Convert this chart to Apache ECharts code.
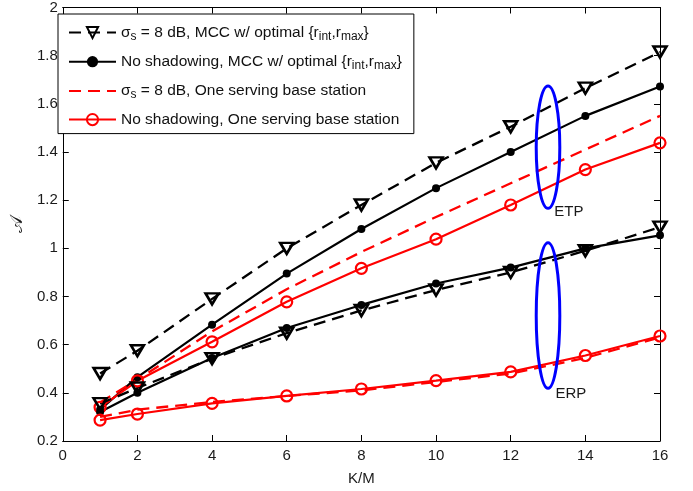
<!DOCTYPE html>
<html>
<head>
<meta charset="utf-8">
<script src="https://cdn.jsdelivr.net/npm/echarts@6/dist/echarts.min.js"></script>
<style>html,body{margin:0;padding:0;background:#fff}#c{width:693px;height:491px}</style>
</head>
<body>
<div id="c"></div>
<script>
// ---- data ----
var xs = [1, 2, 4, 6, 8, 10, 12, 14, 16];
var etpShadowMCC   = [0.48, 0.575, 0.79, 1.0, 1.18, 1.355, 1.505, 1.665, 1.815];
var etpNoShadowMCC = [0.33, 0.465, 0.683, 0.895, 1.08, 1.25, 1.40, 1.55, 1.672];
var etpShadowOne   = [0.36, 0.455, 0.655, 0.83, 0.985, 1.13, 1.27, 1.41, 1.55];
var etpNoShadowOne = [0.34, 0.45, 0.612, 0.778, 0.917, 1.038, 1.18, 1.327, 1.438];
var erpShadowMCC   = [0.355, 0.42, 0.542, 0.648, 0.742, 0.827, 0.90, 0.99, 1.088];
var erpNoShadowMCC = [0.32, 0.40, 0.545, 0.669, 0.765, 0.854, 0.92, 1.0, 1.054];
var erpShadowOne   = [0.30, 0.33, 0.362, 0.387, 0.41, 0.445, 0.48, 0.545, 0.63];
var erpNoShadowOne = [0.287, 0.312, 0.356, 0.387, 0.416, 0.451, 0.487, 0.555, 0.636];
var xTicks = [0, 2, 4, 6, 8, 10, 12, 14, 16];
var yTicks = [0.2, 0.4, 0.6, 0.8, 1, 1.2, 1.4, 1.6, 1.8, 2];
var legendNames = [
  'σ{sub|s} = 8 dB, MCC w/ optimal {r{sub|int},r{sub|max}}',
  'No shadowing, MCC w/ optimal {r{sub|int},r{sub|max}}',
  'σ{sub|s} = 8 dB, One serving base station',
  'No shadowing, One serving base station'
];
// annotation ellipses: [centerX, centerY, radiusX, radiusY] in data units
var ellipseData = [[13, 1.42, 0.316, 0.254], [13, 0.721, 0.316, 0.302]];
// annotation labels: [x, y, text]
var labelData = [[13.17, 1.153, 'ETP'], [13.2, 0.395, 'ERP']];

function pairs(ys) { return xs.map(function (x, i) { return [x, ys[i]]; }); }

var tri = 'path://M0,0L14,0L7,12Z';
var font = 'Liberation Sans, Arial, sans-serif';

function mk(nameIdx, ys, kind) {
  var s = { name: 'L' + nameIdx, type: 'line', data: pairs(ys), animation: false,
    showAllSymbol: true, z: 3 };
  if (kind === 'tri') {
    s.symbol = tri; s.symbolSize = [13, 11];
    s.lineStyle = { color: '#000', width: 2.3, type: [12, 7] };
    s.itemStyle = { color: 'rgba(255,255,255,0)', borderColor: '#000', borderWidth: 2.6 };
  } else if (kind === 'dot') {
    s.symbol = 'circle'; s.symbolSize = 8;
    s.lineStyle = { color: '#000', width: 2.2, type: 'solid' };
    s.itemStyle = { color: '#000', borderColor: '#000', borderWidth: 0 };
  } else if (kind === 'rdash') {
    s.symbol = 'none'; s.showSymbol = false;
    s.lineStyle = { color: '#ff0000', width: 2.3, type: [12, 7] };
    s.itemStyle = { color: '#ff0000' };
  } else {
    s.symbol = 'circle'; s.symbolSize = 11;
    s.lineStyle = { color: '#ff0000', width: 2.2, type: 'solid' };
    s.itemStyle = { color: 'rgba(255,255,255,0)', borderColor: '#ff0000', borderWidth: 2.2 };
  }
  return s;
}

var chart = echarts.init(document.getElementById('c'), null, { renderer: 'canvas' });
var axisCommon = {
  axisLine: { show: true, onZero: false, lineStyle: { color: '#000', width: 1 } },
  axisTick: { show: true, inside: true, length: 6, lineStyle: { color: '#000' } },
  splitLine: { show: false }
};
var option = {
  backgroundColor: '#fff',
  animation: false,
  grid: { left: 52, right: 33, top: 6, bottom: 43, containLabel: false },
  xAxis: [
    Object.assign({ type: 'value', min: xTicks[0], max: xTicks[xTicks.length - 1], interval: 2,
      position: 'bottom', name: 'K/M', nameLocation: 'middle', nameGap: 30,
      nameTextStyle: { fontFamily: font, fontSize: 15, color: '#1a1a1a' },
      axisLabel: { fontFamily: font, fontSize: 15, color: '#1a1a1a', margin: 7 } }, axisCommon),
    Object.assign({ type: 'value', min: xTicks[0], max: xTicks[xTicks.length - 1], interval: 2,
      position: 'top', axisLabel: { show: false } }, axisCommon)
  ],
  yAxis: [
    Object.assign({ type: 'value', min: yTicks[0], max: yTicks[yTicks.length - 1], interval: 0.2,
      position: 'left', name: '𝒜', nameLocation: 'middle', nameGap: 31, nameRotate: 90,
      nameTextStyle: { fontFamily: 'DejaVu Sans, serif', fontSize: 18, color: '#1a1a1a' },
      axisLabel: { fontFamily: font, fontSize: 15, color: '#1a1a1a', margin: 5 } }, axisCommon),
    Object.assign({ type: 'value', min: yTicks[0], max: yTicks[yTicks.length - 1], interval: 0.2,
      position: 'right', axisLabel: { show: false } }, axisCommon)
  ],
  legend: {
    left: 58, top: 14, orient: 'vertical',
    data: ['L0', 'L1', { name: 'L2', itemStyle: { opacity: 0 } }, 'L3'],
    itemWidth: 47, itemHeight: 14, itemGap: 9.2,
    padding: [8.5, 12, 4.5, 10],
    backgroundColor: '#fff', borderColor: '#000', borderWidth: 1, borderRadius: 0,
    formatter: function (n) { return legendNames[+n.slice(1)]; },
    textStyle: { fontFamily: font, fontSize: 15.5, color: '#111', lineHeight: 19,
      rich: { sub: { fontFamily: font, fontSize: 12, lineHeight: 12, color: '#111', padding: [8, 0, 0, 0] } } },
    selectedMode: false
  },
  series: [
    mk(0, etpShadowMCC, 'tri'),
    mk(1, etpNoShadowMCC, 'dot'),
    mk(2, etpShadowOne, 'rdash'),
    mk(3, etpNoShadowOne, 'rcirc'),
    mk(0, erpShadowMCC, 'tri'),
    mk(1, erpNoShadowMCC, 'dot'),
    mk(2, erpShadowOne, 'rdash'),
    mk(3, erpNoShadowOne, 'rcirc'),
    {
      type: 'custom', name: 'ellipses', data: ellipseData, z: 5, silent: true,
      renderItem: function (params, api) {
        var c = api.coord([api.value(0), api.value(1)]);
        var s = api.size([api.value(2), api.value(3)]);
        return { type: 'ellipse', shape: { cx: c[0], cy: c[1], rx: s[0], ry: s[1] },
          style: { fill: 'none', stroke: '#0000ff', lineWidth: 3 } };
      }
    },
    {
      type: 'custom', name: 'labels', data: labelData, z: 6, silent: true,
      renderItem: function (params, api) {
        var c = api.coord([api.value(0), api.value(1)]);
        return { type: 'text', x: c[0], y: c[1],
          style: { text: labelData[params.dataIndex][2], fill: '#1a1a1a', fontFamily: font,
            fontSize: 15, verticalAlign: 'middle', align: 'left' } };
      }
    }
  ]
};
chart.setOption(option);
</script>
</body>
</html>
